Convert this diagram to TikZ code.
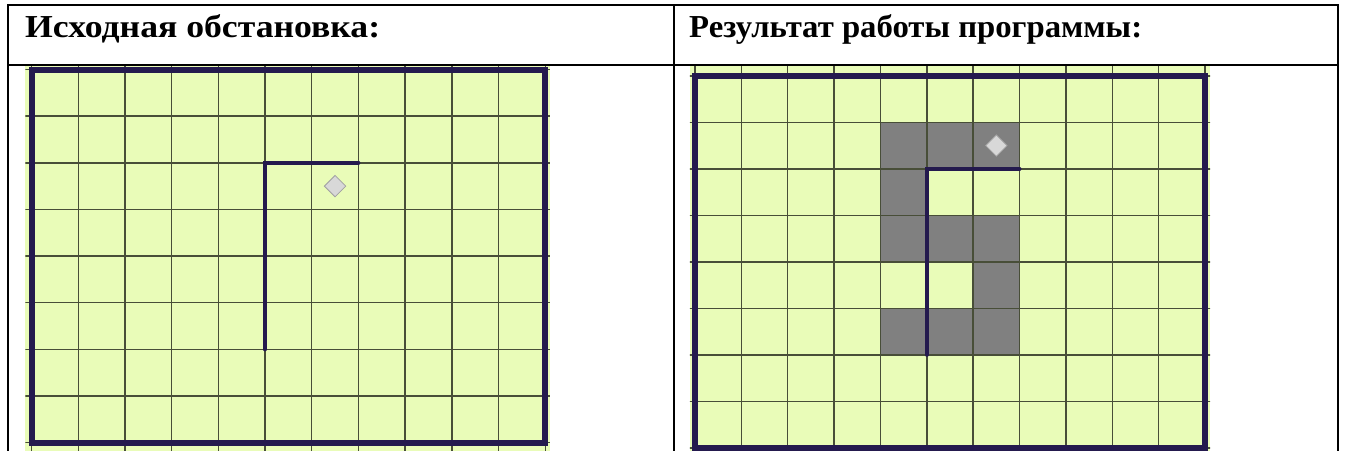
\documentclass[tikz,border=0pt]{standalone}
\usepackage{fontspec}
\usepackage{graphicx}
\setmainfont{Liberation Serif}
\definecolor{cellgreen}{RGB}{233,252,184}
\definecolor{gridcol}{RGB}{72,78,56}
\definecolor{bordercol}{RGB}{36,26,78}
\definecolor{paintcol}{RGB}{128,128,128}
\definecolor{robotfill}{RGB}{216,216,216}
\definecolor{robotedge}{RGB}{160,160,160}
\tikzset{
  tableline/.style={draw=black, line width=1.4pt},
  headtext/.style={font=\bfseries\fontsize{32}{36}\selectfont, anchor=base west, inner sep=0pt},
  gridline/.style={draw=gridcol, line width=1.4pt},
  fieldborder/.style={draw=bordercol, line width=6pt, line join=miter},
  wallline/.style={draw=bordercol, line width=4pt, line cap=round},
  paintcell/.style={fill=paintcol},
  robotmark/.style={fill=robotfill, draw=robotedge, line width=0.8pt},
}
\begin{document}
\begin{tikzpicture}[x=1pt, y=-1pt]
\useasboundingbox (0,0) rectangle (1346,450);
\clip (0,0) rectangle (1346,450);
% table
\coordinate (tl) at (8,5);
\coordinate (tm) at (674,5);
\coordinate (tr) at (1338,5);
\coordinate (bl) at (8,452);
\coordinate (bm) at (674,452);
\coordinate (br) at (1338,452);
\coordinate (hl) at (8,65);
\coordinate (hr) at (1338,65);
\draw[tableline] (bl) -- (tl) -- (tr) -- (br);
\draw[tableline] (tm) -- (bm);
\draw[tableline] (hl) -- (hr);
\node[headtext] (h1) at (25,37.3) {\resizebox{355pt}{\height}{Исходная обстановка:}};
\node[headtext] (h2) at (689,37.3) {\resizebox{453pt}{\height}{Результат работы программы:}};

% left field
\begin{scope}[shift={(31.5,69.5)}, x=46.7pt, y=-46.65pt]
  \fill[cellgreen] (-0.13,-0.075) rectangle (11.1,8.2);
  \begin{scope}
    \clip (-0.13,-0.075) rectangle (11.1,8.2);
    \foreach \i in {0,...,11} \draw[gridline] (\i,-0.2) -- (\i,8.3);
    \foreach \j in {0,...,8} \draw[gridline] (-0.2,\j) -- (11.2,\j);
  \end{scope}
  \draw[fieldborder] (0,0) rectangle (11,8);
  \draw[wallline] (7,2) -- (5,2) -- (5,6);
  \draw[robotmark] (6.5,2.27) -- (6.73,2.5) -- (6.5,2.73) -- (6.27,2.5) -- cycle;
\end{scope}

% right field
\begin{scope}[shift={(695,75.8)}, x=46.36pt, y=-46.5pt]
  \fill[cellgreen] (-0.11,-0.21) rectangle (11.11,8.2);
  \foreach \c/\r in {4/1,5/1,6/1,4/2,4/3,5/3,6/3,6/4,4/5,5/5,6/5}
    \fill[paintcell] (\c,\r) rectangle (\c+1,\r+1);
  \begin{scope}
    \clip (-0.11,-0.21) rectangle (11.11,8.2);
    \foreach \i in {0,...,11} \draw[gridline] (\i,-0.3) -- (\i,8.3);
    \foreach \j in {0,...,8} \draw[gridline] (-0.2,\j) -- (11.2,\j);
  \end{scope}
  \draw[fieldborder] (0,0) rectangle (11,8);
  \draw[wallline] (7,2) -- (5,2) -- (5,6);
  \draw[robotmark] (6.5,1.27) -- (6.73,1.5) -- (6.5,1.73) -- (6.27,1.5) -- cycle;
\end{scope}
\end{tikzpicture}
\end{document}
